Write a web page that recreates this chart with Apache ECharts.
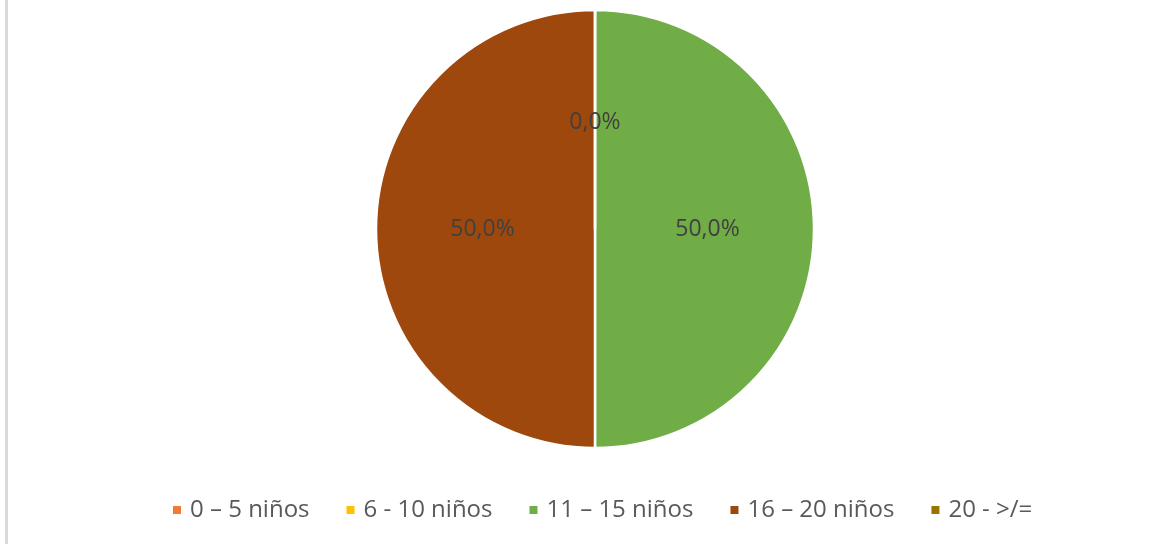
<!DOCTYPE html>
<html>
<head>
<meta charset="utf-8">
<script src="https://cdn.jsdelivr.net/npm/echarts@6/dist/echarts.min.js"></script>
<style>
html,body{margin:0;padding:0;background:#fff;}
#c{width:1171px;height:544px;}
</style>
</head>
<body>
<div id="c"></div>
<script>
const categories = ['0 – 5 niños', '6 - 10 niños', '11 – 15 niños', '16 – 20 niños', '20 - >/='];
const values = [0, 0, 50, 50, 0];
const colors = ['#ED7D31', '#FFC000', '#70AD47', '#9E480E', '#997300'];

const chart = echarts.init(document.getElementById('c'));
chart.setOption({
  backgroundColor: '#ffffff',
  animation: false,
  graphic: [{
    type: 'rect',
    shape: {x: 5, y: 0, width: 3, height: 544},
    style: {fill: '#d9d9d9'}
  }],
  legend: {
    data: categories,
    top: 493,
    left: 166,
    padding: [5, 5, 5, 5],
    icon: 'rect',
    itemWidth: 10,
    itemHeight: 10,
    itemGap: 35,
    textStyle: {fontFamily: 'Open Sans', fontSize: 24, color: '#595959', padding: [0,0,0,3]}
  },
  series: [{
    type: 'pie',
    center: [595, 229],
    radius: [0, 219],
    startAngle: 90,
    clockwise: true,
    avoidLabelOverlap: false,
    minShowLabelAngle: 0,
    data: categories.map((n, i) => ({
      name: n, value: values[i], itemStyle: {color: colors[i]},
      label: values[i] === 0 ? {offset: [0, 6]} : {}
    })),
    itemStyle: {borderColor: '#ffffff', borderWidth: 2.5},
    label: {
      show: true,
      position: 'inside',
      fontFamily: 'Open Sans',
      fontSize: 23,
      color: '#404040',
      formatter: p => p.percent.toFixed(1).replace('.', ',') + '%'
    },
    labelLine: {show: false},
    emphasis: {disabled: true}
  }]
});
</script>
</body>
</html>
